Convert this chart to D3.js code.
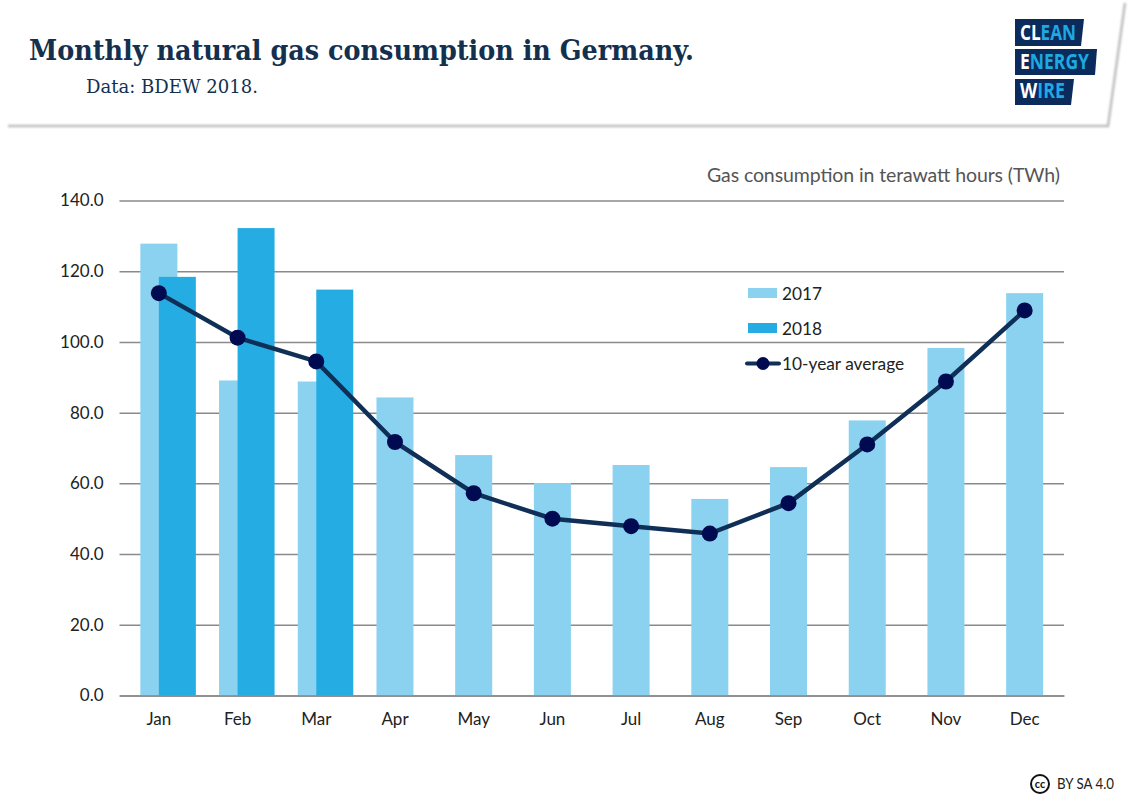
<!DOCTYPE html>
<html>
<head>
<meta charset="utf-8">
<title>Monthly natural gas consumption in Germany</title>
<script src="https://d3js.org/d3.v7.min.js"></script>
<style>
  html, body { margin: 0; padding: 0; background: #fff; }
  svg { display: block; }
  text { font-family: Lato, "Open Sans", sans-serif; }
</style>
</head>
<body>
<svg width="1132" height="800"></svg>
<script>
var months = ["Jan","Feb","Mar","Apr","May","Jun","Jul","Aug","Sep","Oct","Nov","Dec"];
var values2017 = [127.8, 89.1, 88.8, 84.3, 68.0, 60.1, 65.2, 55.6, 64.6, 77.8, 98.3, 113.8];
var values2018 = [118.4, 132.2, 114.8];
var average = [113.8, 101.2, 94.5, 71.7, 57.2, 50.0, 47.9, 45.8, 54.4, 71.0, 88.8, 108.9];
var yTicks = [0, 20, 40, 60, 80, 100, 120, 140];

var lightBlue = "#8bd2f0", midBlue = "#25ade3", lineBlue = "#0f2f57", dotBlue = "#000a50";

var svg = d3.select("svg");

// header card
var blur = svg.append("defs").append("filter").attr("id", "soft")
    .attr("x", "-5%").attr("y", "-5%").attr("width", "110%").attr("height", "110%");
blur.append("feGaussianBlur").attr("stdDeviation", 0.8);

svg.append("path")
    .attr("d", "M8,126 L1108,126 L1125,3")
    .attr("fill", "none")
    .attr("stroke", "#bdbdbd")
    .attr("stroke-width", 2.5)
    .attr("filter", "url(#soft)");

svg.append("text")
    .attr("x", 29).attr("y", 60)
    .attr("textLength", 665).attr("lengthAdjust", "spacingAndGlyphs")
    .style("font-family", "'DejaVu Serif', serif")
    .style("font-weight", "bold").style("font-size", "27px")
    .attr("fill", "#14304f")
    .text("Monthly natural gas consumption in Germany.");

svg.append("text")
    .attr("x", 86).attr("y", 93)
    .attr("textLength", 172).attr("lengthAdjust", "spacingAndGlyphs")
    .style("font-family", "'DejaVu Serif', serif")
    .style("font-size", "18px")
    .attr("fill", "#14304f")
    .text("Data: BDEW 2018.");

// logo, each word squeezed sideways to the width it has in the original
var logoRows = [
  { white: "CL", blue: "EAN", pts: "1015,19 1084,19 1081,46 1015,46", y: 40, w: 56 },
  { white: "E", blue: "NERGY", pts: "1015,49 1097,49 1095,75 1015,75", y: 69, w: 69 },
  { white: "W", blue: "IRE", pts: "1015,79 1074,79 1071,105 1015,105", y: 98, w: 45 }
];
var logo = svg.append("g");
logoRows.forEach(function(r) {
  logo.append("polygon").attr("points", r.pts).attr("fill", "#0a2b5c");
  var t = logo.append("text")
      .style("font-family", "'Open Sans', sans-serif")
      .style("font-weight", "bold").style("font-size", "21px");
  t.append("tspan").attr("fill", "#fff").text(r.white);
  t.append("tspan").attr("fill", "#1ea9e1").text(r.blue);
  var k = r.w / t.node().getComputedTextLength();
  t.attr("transform", "translate(1020," + r.y + ") scale(" + k + ",1)");
});

// chart
var x = d3.scaleBand().domain(months).range([119.5, 1064]);
var y = d3.scaleLinear().domain([0, 140]).range([695.5, 200.5]);
var barW = 37;

var yAxis = svg.append("g")
    .attr("transform", "translate(119.5,0)")
    .call(d3.axisLeft(y).tickValues(yTicks).tickSize(-944.5).tickPadding(16).tickFormat(d3.format(".1f")));
yAxis.select(".domain").remove();
yAxis.selectAll("line").attr("stroke", "#8a8a8a").attr("stroke-width", 1.5);
yAxis.selectAll("text").style("font-size", "17px").attr("fill", "#222");

svg.append("g").selectAll("rect")
    .data(values2017)
    .enter().append("rect")
    .attr("x", function(d, i) { return x(months[i]) + x.bandwidth() / 2 - barW / 2; })
    .attr("y", function(d) { return y(d); })
    .attr("width", barW)
    .attr("height", function(d) { return y(0) - y(d); })
    .attr("fill", lightBlue);

svg.append("g").selectAll("rect")
    .data(values2018)
    .enter().append("rect")
    .attr("x", function(d, i) { return x(months[i]) + x.bandwidth() / 2; })
    .attr("y", function(d) { return y(d); })
    .attr("width", barW)
    .attr("height", function(d) { return y(0) - y(d); })
    .attr("fill", midBlue);

var xAxis = svg.append("g")
    .attr("transform", "translate(0,695.5)")
    .call(d3.axisBottom(x).tickSize(0).tickPadding(17));
xAxis.select(".domain").attr("stroke", "#8a8a8a").attr("stroke-width", 1.5);
xAxis.selectAll("text").style("font-size", "17px").attr("fill", "#222");

var line = d3.line()
    .x(function(d, i) { return x(months[i]) + x.bandwidth() / 2; })
    .y(function(d) { return y(d); });

svg.append("path")
    .attr("d", line(average))
    .attr("fill", "none")
    .attr("stroke", lineBlue)
    .attr("stroke-width", 4.5);

svg.append("g").selectAll("circle")
    .data(average)
    .enter().append("circle")
    .attr("cx", function(d, i) { return x(months[i]) + x.bandwidth() / 2; })
    .attr("cy", function(d) { return y(d); })
    .attr("r", 8)
    .attr("fill", dotBlue);

svg.append("text")
    .attr("x", 1060).attr("y", 182)
    .attr("text-anchor", "end")
    .attr("textLength", 353)
    .style("font-size", "19.5px")
    .attr("fill", "#555")
    .text("Gas consumption in terawatt hours (TWh)");

// legend
var legend = svg.append("g");
legend.append("rect").attr("x", 748).attr("y", 288).attr("width", 29).attr("height", 10).attr("fill", lightBlue);
legend.append("rect").attr("x", 748).attr("y", 323).attr("width", 29).attr("height", 10).attr("fill", midBlue);
legend.append("line").attr("x1", 747).attr("x2", 779).attr("y1", 363.5).attr("y2", 363.5)
    .attr("stroke", lineBlue).attr("stroke-width", 4).attr("stroke-linecap", "round");
legend.append("circle").attr("cx", 763).attr("cy", 363.5).attr("r", 6.5).attr("fill", dotBlue);
[["2017", 299.5], ["2018", 334.5], ["10-year average", 369.5]].forEach(function(l) {
  legend.append("text").attr("x", 782).attr("y", l[1])
      .style("font-size", "17.3px").attr("fill", "#222").text(l[0]);
});

// licence mark
svg.append("circle").attr("cx", 1040).attr("cy", 784).attr("r", 9)
    .attr("fill", "#fff").attr("stroke", "#111").attr("stroke-width", 2);
svg.append("text").attr("x", 1040).attr("y", 788).attr("text-anchor", "middle")
    .style("font-size", "11px").style("font-weight", "bold").attr("fill", "#111").text("cc");
svg.append("text").attr("x", 1057).attr("y", 789)
    .attr("textLength", 57).attr("lengthAdjust", "spacingAndGlyphs")
    .style("font-size", "14.5px").attr("fill", "#222").text("BY SA 4.0");
</script>
</body>
</html>
